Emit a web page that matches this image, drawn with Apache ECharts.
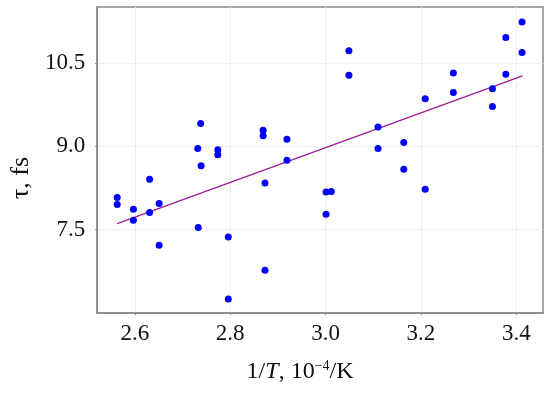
<!DOCTYPE html>
<html><head><meta charset="utf-8">
<script src="https://cdn.jsdelivr.net/npm/echarts@6/dist/echarts.min.js"></script>
<style>html,body{margin:0;padding:0;background:#fff}#c{width:550px;height:393px}</style>
</head><body><div id="c"></div>
<script>
var xVals = [2.563,2.563,2.597,2.597,2.631,2.631,2.651,2.651,2.738,2.732,2.739,2.733,2.774,2.774,2.796,2.796,2.869,2.869,2.873,2.873,2.919,2.919,3.001,3.001,3.012,3.049,3.049,3.110,3.110,3.164,3.164,3.209,3.209,3.268,3.268,3.350,3.350,3.378,3.378,3.412,3.412];
var yVals = [8.08,7.955,7.87,7.67,8.41,7.81,7.97,7.22,9.41,8.96,8.65,7.54,8.94,8.85,7.37,6.25,9.29,9.19,8.34,6.77,9.13,8.75,8.18,7.78,8.19,10.72,10.28,9.35,8.96,9.07,8.59,9.86,8.23,10.32,9.97,10.04,9.72,10.96,10.30,11.24,10.69];
var fitX = [2.563, 3.413];
var fitY = [7.61, 10.27];
var xTicks = [2.6, 2.8, 3.0, 3.2, 3.4];
var yTicks = [7.5, 9.0, 10.5];

var pts = xVals.map(function(x,i){return [x, yVals[i]];});
var line = fitX.map(function(x,i){return [x, fitY[i]];});
var font = '"Liberation Serif"';
var chart = echarts.init(document.getElementById('c'), null, {renderer:'canvas'});
chart.setOption({
  animation:false,
  backgroundColor:'#fff',
  grid:{left:94, top:7, right:7, bottom:80, show:true, borderColor:'#888', borderWidth:1.5},
  xAxis:{type:'value', min:2.521, max:3.456,
    name:'1/{i|T}, 10{s|−4}/K', nameLocation:'middle', nameGap:46,
    nameTextStyle:{fontFamily:font, fontSize:24, color:'#111', padding:[0,40,0,0],
      rich:{i:{fontFamily:font, fontSize:24, fontStyle:'italic', color:'#111'},
            s:{fontFamily:font, fontSize:14, color:'#111', verticalAlign:'bottom', padding:[0,0,12,0]}}},
    axisLine:{show:true, lineStyle:{color:'#888', width:1.5}},
    axisTick:{show:true, length:2, customValues:xTicks, lineStyle:{color:'#888'}},
    axisLabel:{customValues:xTicks, fontFamily:font, fontSize:23, color:'#111', margin:9,
      formatter:function(v){return v.toFixed(1);}},
    splitLine:{show:true, lineStyle:{color:'#eeeeee', width:1}}
  },
  yAxis:{type:'value', min:6.0, max:11.51,
    name:'τ, fs', nameLocation:'middle', nameRotate:90, nameGap:60,
    nameTextStyle:{fontFamily:font, fontSize:26, color:'#111', padding:[0,36,0,0]},
    axisLine:{show:true, lineStyle:{color:'#888', width:1.5}},
    axisTick:{show:true, length:2, customValues:yTicks, lineStyle:{color:'#888'}},
    axisLabel:{customValues:yTicks, fontFamily:font, fontSize:23, color:'#111', margin:12,
      formatter:function(v){return v.toFixed(1);}},
    splitLine:{show:true, lineStyle:{color:'#eeeeee', width:1}}
  },
  series:[
    {type:'line', data:line, symbol:'none', lineStyle:{color:'#9c1f9c', width:1.5}, z:2},
    {type:'scatter', data:pts, symbol:'circle', symbolSize:7, itemStyle:{color:'#0000ff', opacity:1}, z:3}
  ]
});
</script></body></html>
